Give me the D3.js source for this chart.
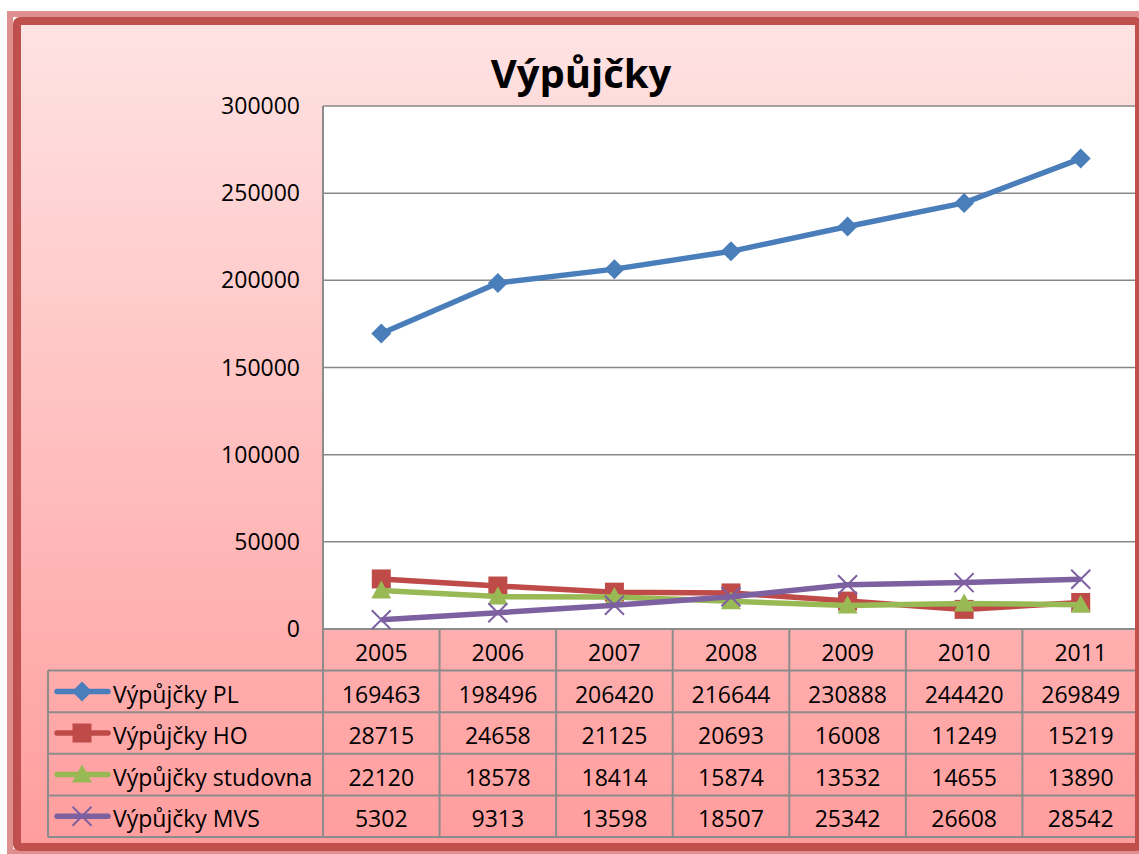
<!DOCTYPE html>
<html>
<head>
<meta charset="utf-8">
<script src="https://cdn.jsdelivr.net/npm/d3@7.9.0/dist/d3.min.js"></script>
<style>
  html, body { margin: 0; padding: 0; background: #fff; }
  svg { display: block; font-family: "Open Sans", sans-serif; }
</style>
</head>
<body>
<div id="chart"></div>
<script>
// Data
const years = ['2005', '2006', '2007', '2008', '2009', '2010', '2011'];
const seriesNames = ['Výpůjčky PL', 'Výpůjčky HO', 'Výpůjčky studovna', 'Výpůjčky MVS'];
const valuesPL = [169463, 198496, 206420, 216644, 230888, 244420, 269849];
const valuesHO = [28715, 24658, 21125, 20693, 16008, 11249, 15219];
const valuesStudovna = [22120, 18578, 18414, 15874, 13532, 14655, 13890];
const valuesMVS = [5302, 9313, 13598, 18507, 25342, 26608, 28542];
const yTicks = [0, 50000, 100000, 150000, 200000, 250000, 300000];
const colors = ['#4a7ebb', '#be4b48', '#98b954', '#7d60a0'];
const markers = ['diamond', 'square', 'triangle', 'x'];

const series = seriesNames.map((name, i) => ({
    name,
    values: [valuesPL, valuesHO, valuesStudovna, valuesMVS][i],
    color: colors[i],
    marker: markers[i],
}));

// Dimensions
const width = 1139;
const height = 854;
const plot = { left: 323, right: 1139, top: 106, bottom: 629 };
const rowH = 41.6;
const tableLeft = 48;

const svg = d3.select('#chart')
    .append('svg')
    .attr('width', width)
    .attr('height', height);

// Background gradient
const defs = svg.append('defs');
const grad = defs.append('linearGradient')
    .attr('id', 'bg')
    .attr('x1', 0).attr('y1', 0).attr('x2', 0).attr('y2', 1);
grad.append('stop').attr('offset', '0%').attr('stop-color', '#ffe3e3');
grad.append('stop').attr('offset', '100%').attr('stop-color', '#ff9d9d');

// Background fill (frame drawn last, on top)
svg.append('rect')
    .attr('x', 17).attr('y', 21)
    .attr('width', 1122).attr('height', 826)
    .attr('fill', 'url(#bg)');

// Title
svg.append('text')
    .attr('x', 581)
    .attr('y', 88)
    .attr('text-anchor', 'middle')
    .attr('font-size', 40)
    .attr('font-weight', 'bold')
    .attr('fill', '#000')
    .text('Výpůjčky');

// Scales
const xScale = d3.scaleBand()
    .domain(years)
    .range([plot.left, plot.right]);

const xc = (d) => xScale(d) + xScale.bandwidth() / 2;

const yScale = d3.scaleLinear()
    .domain([0, 300000])
    .range([plot.bottom, plot.top]);

// Plot area
svg.append('rect')
    .attr('x', plot.left)
    .attr('y', plot.top)
    .attr('width', plot.right - plot.left)
    .attr('height', plot.bottom - plot.top)
    .attr('fill', '#fff');

// Gridlines
svg.append('g')
    .attr('class', 'gridlines')
    .selectAll('line')
    .data(yTicks)
    .join('line')
    .attr('x1', plot.left)
    .attr('x2', plot.right)
    .attr('y1', (d) => yScale(d))
    .attr('y2', (d) => yScale(d))
    .attr('stroke', '#878787')
    .attr('stroke-width', 1.5);

// Y axis labels
svg.append('g')
    .selectAll('text')
    .data(yTicks)
    .join('text')
    .attr('x', 300)
    .attr('y', (d) => yScale(d) + 8)
    .attr('text-anchor', 'end')
    .attr('font-size', 23)
    .attr('fill', '#000')
    .text((d) => d);

// Data table lines
const table = svg.append('g').attr('class', 'table');
const tableBottom = plot.bottom + rowH * 5;
const gridColor = '#8c8c8c';

// horizontal lines
d3.range(1, 6).forEach((i) => {
    table.append('line')
        .attr('x1', tableLeft)
        .attr('x2', plot.right)
        .attr('y1', plot.bottom + rowH * i)
        .attr('y2', plot.bottom + rowH * i)
        .attr('stroke', gridColor)
        .attr('stroke-width', 2);
});
table.append('line')
    .attr('x1', plot.left).attr('x2', plot.right)
    .attr('y1', plot.bottom).attr('y2', plot.bottom)
    .attr('stroke', gridColor).attr('stroke-width', 2);

// vertical lines
table.append('line')
    .attr('x1', tableLeft).attr('x2', tableLeft)
    .attr('y1', plot.bottom + rowH).attr('y2', tableBottom)
    .attr('stroke', gridColor).attr('stroke-width', 2);
table.append('line')
    .attr('x1', plot.left).attr('x2', plot.left)
    .attr('y1', plot.top).attr('y2', tableBottom)
    .attr('stroke', gridColor).attr('stroke-width', 2);
table.selectAll('.vline')
    .data(years.slice(1))
    .join('line')
    .attr('class', 'vline')
    .attr('x1', (d) => xScale(d))
    .attr('x2', (d) => xScale(d))
    .attr('y1', plot.bottom)
    .attr('y2', tableBottom)
    .attr('stroke', gridColor)
    .attr('stroke-width', 2);

// Year header
table.selectAll('.year')
    .data(years)
    .join('text')
    .attr('class', 'year')
    .attr('x', (d) => xc(d))
    .attr('y', plot.bottom + 32)
    .attr('text-anchor', 'middle')
    .attr('font-size', 23)
    .text((d) => d);

// Marker shapes
function markerPath(type) {
    if (type === 'diamond') return 'M0,-10L10,0L0,10L-10,0Z';
    if (type === 'square') return 'M-9.5,-9.5H9.5V9.5H-9.5Z';
    if (type === 'triangle') return 'M0,-10L10,8L-10,8Z';
    return 'M-9.5,-9.5L9.5,9.5M-9.5,9.5L9.5,-9.5';
}

function drawMarker(g, type, color) {
    const p = g.append('path').attr('d', markerPath(type));
    if (type === 'x') {
        p.attr('fill', 'none').attr('stroke', color).attr('stroke-width', 2);
    } else {
        p.attr('fill', color);
    }
}

// Table rows
series.forEach((s, i) => {
    const rowTop = plot.bottom + rowH * (i + 1);
    const cy = rowTop + rowH / 2;

    // legend key
    table.append('line')
        .attr('x1', 57).attr('x2', 108)
        .attr('y1', cy).attr('y2', cy)
        .attr('stroke', s.color)
        .attr('stroke-width', 5.5)
        .attr('stroke-linecap', 'round');
    drawMarker(table.append('g').attr('transform', `translate(82,${cy})`), s.marker, s.color);

    table.append('text')
        .attr('x', 113)
        .attr('y', rowTop + 32)
        .attr('font-size', 23)
        .text(s.name);

    table.selectAll(`.val${i}`)
        .data(s.values)
        .join('text')
        .attr('class', `val${i}`)
        .attr('x', (d, j) => xc(years[j]))
        .attr('y', rowTop + 32)
        .attr('text-anchor', 'middle')
        .attr('font-size', 23)
        .text((d) => d);
});

// Series lines and markers
const line = d3.line()
    .x((d, j) => xc(years[j]))
    .y((d) => yScale(d));

series.forEach((s) => {
    const g = svg.append('g').attr('class', 'series');
    g.append('path')
        .datum(s.values)
        .attr('d', line)
        .attr('fill', 'none')
        .attr('stroke', s.color)
        .attr('stroke-width', 5.5)
        .attr('stroke-linejoin', 'round');

    g.selectAll('g.mark')
        .data(s.values)
        .join('g')
        .attr('class', 'mark')
        .attr('transform', (d, j) => `translate(${xc(years[j])},${yScale(d)})`)
        .each(function () {
            drawMarker(d3.select(this), s.marker, s.color);
        });
});

// Outer frame, on top of everything
svg.append('rect')
    .attr('x', 10).attr('y', 14)
    .attr('width', 1140).attr('height', 838)
    .attr('fill', 'none')
    .attr('stroke', '#df8f8d')
    .attr('stroke-width', 6);

svg.append('rect')
    .attr('x', 17).attr('y', 21)
    .attr('width', 1122).attr('height', 826)
    .attr('rx', 3)
    .attr('fill', 'none')
    .attr('stroke', '#c0504d')
    .attr('stroke-width', 8);
</script>
</body>
</html>
